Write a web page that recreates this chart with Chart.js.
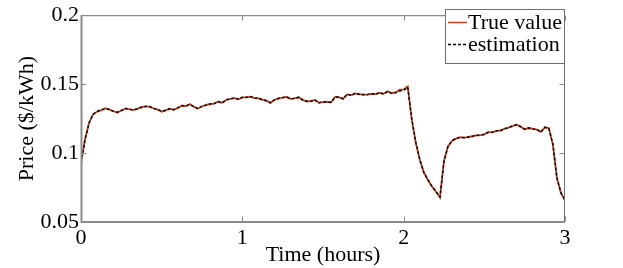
<!DOCTYPE html>
<html>
<head>
<meta charset="utf-8">
<script src="https://cdn.jsdelivr.net/npm/chart.js@4/dist/chart.umd.min.js"></script>
<style>
html, body { margin: 0; padding: 0; background: #fff; }
</style>
</head>
<body>
<canvas id="grafica" width="623" height="268"></canvas>
<script>
// sample times (hours)
const times = [
  0, 0.025, 0.05, 0.075, 0.1, 0.125, 0.15, 0.175, 0.2, 0.225,
  0.25, 0.275, 0.3, 0.325, 0.35, 0.375, 0.4, 0.425, 0.45, 0.475,
  0.5, 0.525, 0.55, 0.575, 0.6, 0.625, 0.65, 0.675, 0.7, 0.725,
  0.75, 0.775, 0.8, 0.825, 0.85, 0.875, 0.9, 0.925, 0.95, 0.975,
  1, 1.025, 1.05, 1.075, 1.1, 1.125, 1.15, 1.175, 1.2, 1.225,
  1.25, 1.275, 1.3, 1.325, 1.35, 1.375, 1.4, 1.425, 1.45, 1.475,
  1.5, 1.525, 1.55, 1.575, 1.6, 1.625, 1.65, 1.675, 1.7, 1.725,
  1.75, 1.775, 1.8, 1.825, 1.85, 1.875, 1.9, 1.925, 1.95, 1.975,
  2, 2.025, 2.05, 2.075, 2.1, 2.125, 2.15, 2.175, 2.2, 2.225,
  2.25, 2.275, 2.3, 2.325, 2.35, 2.375, 2.4, 2.425, 2.45, 2.475,
  2.5, 2.525, 2.55, 2.575, 2.6, 2.625, 2.65, 2.675, 2.7, 2.725,
  2.75, 2.775, 2.8, 2.825, 2.85, 2.875, 2.9, 2.925, 2.95, 2.975,
  3
];

const trueValue = [
  0.0926, 0.1100, 0.1220, 0.1283, 0.1300, 0.1310, 0.1325, 0.1315, 0.1305, 0.1292,
  0.1310, 0.1322, 0.1318, 0.1312, 0.1322, 0.1332, 0.1340, 0.1335, 0.1325, 0.1315,
  0.1300, 0.1312, 0.1320, 0.1316, 0.1326, 0.1345, 0.1340, 0.1356, 0.1335, 0.1323,
  0.1338, 0.1350, 0.1354, 0.1360, 0.1372, 0.1365, 0.1385, 0.1393, 0.1398, 0.1392,
  0.1402, 0.1406, 0.1408, 0.1400, 0.1396, 0.1388, 0.1378, 0.1366, 0.1385, 0.1398,
  0.1401, 0.1408, 0.1392, 0.1398, 0.1403, 0.1386, 0.1373, 0.1378, 0.1384, 0.1366,
  0.1370, 0.1372, 0.1366, 0.1408, 0.1404, 0.1395, 0.1425, 0.1420, 0.1432, 0.1428,
  0.1422, 0.1425, 0.1430, 0.1427, 0.1437, 0.1430, 0.1448, 0.1436, 0.1440, 0.1460,
  0.1462, 0.1483, 0.1243, 0.1075, 0.0950, 0.0862, 0.0805, 0.0760, 0.0720, 0.0678,
  0.0945, 0.1048, 0.1090, 0.1105, 0.1115, 0.1110, 0.1118, 0.1120, 0.1130, 0.1128,
  0.1138, 0.1150, 0.1152, 0.1160, 0.1165, 0.1175, 0.1185, 0.1195, 0.1208, 0.1190,
  0.1175, 0.1180, 0.1178, 0.1170, 0.1154, 0.1185, 0.1182, 0.1060, 0.0820, 0.0710,
  0.0655
];

const estimation = [
  0.0930, 0.1095, 0.1218, 0.1280, 0.1303, 0.1314, 0.1322, 0.1318, 0.1302, 0.1296,
  0.1307, 0.1325, 0.1315, 0.1315, 0.1319, 0.1335, 0.1337, 0.1338, 0.1322, 0.1318,
  0.1303, 0.1309, 0.1323, 0.1313, 0.1329, 0.1342, 0.1343, 0.1352, 0.1338, 0.1320,
  0.1341, 0.1347, 0.1357, 0.1357, 0.1375, 0.1362, 0.1388, 0.1390, 0.1401, 0.1389,
  0.1405, 0.1403, 0.1411, 0.1397, 0.1399, 0.1385, 0.1381, 0.1363, 0.1388, 0.1395,
  0.1404, 0.1405, 0.1395, 0.1395, 0.1406, 0.1383, 0.1376, 0.1375, 0.1387, 0.1363,
  0.1373, 0.1369, 0.1369, 0.1405, 0.1407, 0.1392, 0.1428, 0.1417, 0.1435, 0.1425,
  0.1425, 0.1422, 0.1433, 0.1424, 0.1440, 0.1427, 0.1445, 0.1433, 0.1437, 0.1450,
  0.1455, 0.1478, 0.1250, 0.1080, 0.0953, 0.0858, 0.0808, 0.0757, 0.0723, 0.0682,
  0.0938, 0.1052, 0.1087, 0.1108, 0.1112, 0.1113, 0.1115, 0.1123, 0.1127, 0.1131,
  0.1135, 0.1153, 0.1149, 0.1163, 0.1162, 0.1178, 0.1182, 0.1198, 0.1205, 0.1193,
  0.1172, 0.1183, 0.1175, 0.1173, 0.1151, 0.1188, 0.1179, 0.1065, 0.0817, 0.0713,
  0.0658
];

const xTicks = [0, 1, 2, 3];
const yTicks = [0.05, 0.1, 0.15, 0.2];

const RED = '#c8401e';
const FONT = '"Liberation Serif", "Times New Roman", serif';

Chart.defaults.font.family = FONT;
Chart.defaults.color = '#000';

// box round the plot, inward ticks and the legend
const frame = {
  id: 'frame',
  afterDraw(chart) {
    const { ctx, chartArea: a, scales } = chart;
    const L = a.left + 0.5, R = a.right - 0.5, T = a.top + 0.5, B = a.bottom - 0.5;
    ctx.save();
    ctx.strokeStyle = '#6e6e6e';
    ctx.lineWidth = 1;
    ctx.strokeRect(L, T, R - L, B - T);
    ctx.strokeStyle = '#8a8a8a';
    ctx.lineWidth = 2;
    ctx.beginPath();
    ctx.moveTo(a.left + 0.5, a.top);
    ctx.lineTo(a.left + 0.5, a.bottom);
    ctx.lineTo(a.right, a.bottom);
    ctx.stroke();

    ctx.strokeStyle = '#8a8a8a';
    ctx.lineWidth = 1;
    ctx.beginPath();
    yTicks.forEach(v => {
      const py = Math.round(scales.y.getPixelForValue(v)) + 0.5;
      ctx.moveTo(L, py); ctx.lineTo(L + 5, py);
      ctx.moveTo(R, py); ctx.lineTo(R - 5, py);
    });
    xTicks.forEach(v => {
      const px = Math.round(scales.x.getPixelForValue(v)) + 0.5;
      ctx.moveTo(px, B); ctx.lineTo(px, B - 5);
      ctx.moveTo(px, T); ctx.lineTo(px, T + 5);
    });
    ctx.stroke();

    // legend
    const lx = 445.5, ly = 9.5, lw = 119, lh = 54;
    ctx.fillStyle = '#fff';
    ctx.fillRect(lx, ly, lw, lh);
    ctx.strokeStyle = '#6e6e6e';
    ctx.strokeRect(lx, ly, lw, lh);
    ctx.font = '22px ' + FONT;
    ctx.textBaseline = 'middle';
    ctx.fillStyle = '#000';
    const rows = [23, 45];
    chart.data.datasets.forEach((ds, i) => {
      ctx.strokeStyle = ds.borderColor;
      ctx.lineWidth = 1.5;
      ctx.setLineDash(ds.borderDash || []);
      ctx.beginPath();
      ctx.moveTo(448, rows[i] - 0.5);
      ctx.lineTo(467, rows[i] - 0.5);
      ctx.stroke();
      ctx.setLineDash([]);
      ctx.fillText(ds.label, 468, rows[i]);
    });
    ctx.restore();
  }
};

new Chart(document.getElementById('grafica'), {
  type: 'line',
  data: {
    datasets: [
      {
        label: 'True value',
        data: times.map((t, i) => ({ x: t, y: trueValue[i] })),
        borderColor: RED,
        borderWidth: 1.8,
        pointRadius: 0,
        tension: 0,
        order: 2
      },
      {
        label: 'estimation',
        data: times.map((t, i) => ({ x: t, y: estimation[i] })),
        borderColor: '#000',
        borderWidth: 1.4,
        borderDash: [3, 2],
        pointRadius: 0,
        tension: 0,
        order: 1
      }
    ]
  },
  options: {
    responsive: false,
    animation: false,
    layout: { padding: { left: 0, right: 58, top: 9, bottom: 0 } },
    plugins: {
      legend: { display: false },
      tooltip: { enabled: false }
    },
    scales: {
      x: {
        type: 'linear',
        min: 0,
        max: 3,
        afterFit: s => { s.height = 46; },
        afterBuildTicks: s => { s.ticks = xTicks.map(v => ({ value: v })); },
        grid: { display: false, drawTicks: false },
        border: { display: false },
        ticks: { font: { size: 22 }, padding: 3, maxRotation: 0 },
        title: { display: true, text: 'Time (hours)', font: { size: 22 }, padding: { top: 0, bottom: 0 } }
      },
      y: {
        min: 0.05,
        max: 0.2,
        afterFit: s => { s.width = 81; },
        afterBuildTicks: s => { s.ticks = yTicks.map(v => ({ value: v })); },
        grid: { display: false, drawTicks: false },
        border: { display: false },
        ticks: { font: { size: 22 }, padding: 2, callback: v => String(+v.toFixed(2)) },
        title: { display: true, text: 'Price ($/kWh)', font: { size: 22 }, padding: { top: 14, bottom: 0 } }
      }
    }
  },
  plugins: [frame]
});
</script>
</body>
</html>
